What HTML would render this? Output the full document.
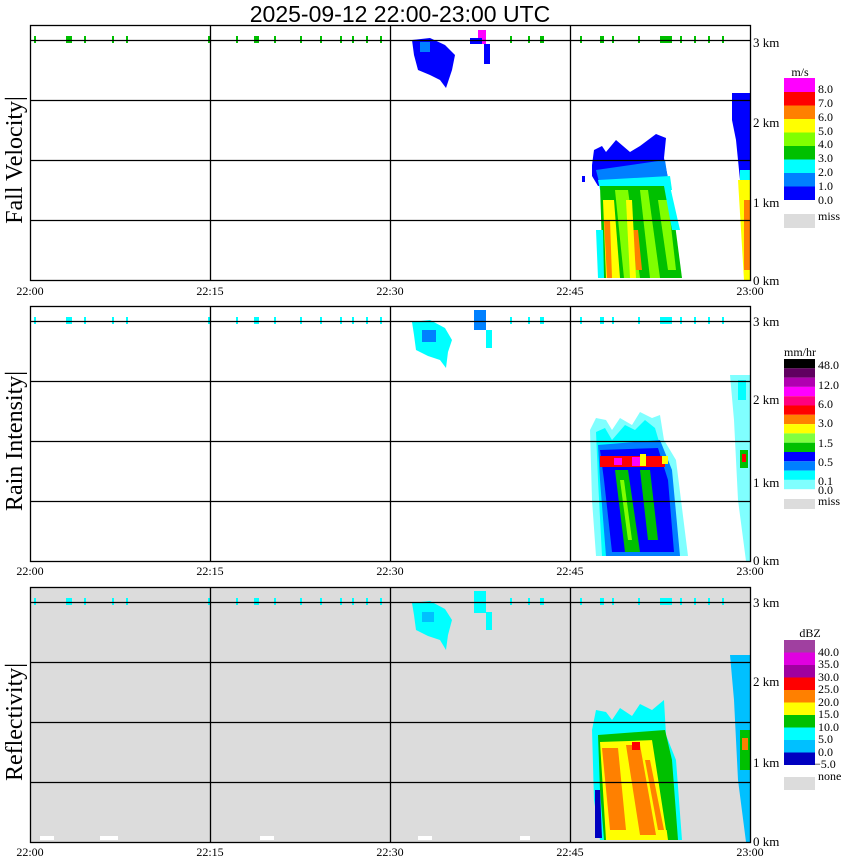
<!DOCTYPE html>
<html><head><meta charset="utf-8"><style>
html,body{margin:0;padding:0;background:#fff;}
svg{display:block;}
text{font-family:"Liberation Serif",serif;}
.s{font-family:"Liberation Sans",sans-serif;}
</style></head><body>
<svg width="850" height="868" viewBox="0 0 850 868" xmlns="http://www.w3.org/2000/svg">
<text x="400" y="22" class="s" font-size="23" text-anchor="middle">2025-09-12  22:00-23:00 UTC</text>

<!-- PANEL 1 -->
<g>
<rect x="30" y="25" width="720" height="255" fill="#fff"/>
<polygon points="412,40 430,38 445,45 455,55 452,70 446,88 440,80 430,75 418,70 414,55" fill="#0000ff"/>
<rect x="420" y="42" width="10" height="10" fill="#0080ff"/>
<rect x="478" y="30" width="8" height="14" fill="#ff00ff"/>
<rect x="470" y="38" width="12" height="6" fill="#0000ff"/>
<rect x="484" y="44" width="6" height="20" fill="#0000ff"/>
<polygon points="592,165 594,150 602,146 606,152 616,140 630,152 640,146 656,134 666,138 664,158 668,178 598,186 592,176" fill="#0000ff"/>
<polygon points="596,170 665,160 668,180 600,186" fill="#0080ff"/>
<polygon points="598,180 670,176 672,190 600,190" fill="#00ffff"/>
<polygon points="600,186 670,186 682,278 603,278" fill="#00c000"/>
<polygon points="615,190 628,190 640,278 624,278" fill="#80ff00"/>
<polygon points="640,190 648,190 660,278 650,278" fill="#80ff00"/>
<polygon points="658,200 668,200 676,270 668,270" fill="#80ff00"/>
<polygon points="603,200 614,200 620,278 606,278" fill="#ffff00"/>
<polygon points="604,220 610,220 612,278 607,278" fill="#ff8000"/>
<polygon points="632,230 638,230 642,270 636,270" fill="#ff8000"/>
<polygon points="626,200 632,200 636,278 630,278" fill="#ffff00"/>
<polygon points="664,186 670,186 680,230 672,230" fill="#00ffff"/>
<polygon points="596,230 603,230 604,278 598,278" fill="#00ffff"/>
<rect x="582" y="176" width="3" height="6" fill="#0000ff"/>
<polygon points="732,93 750,93 750,280 745,280 740,180 736,140 732,120" fill="#0000ff"/>
<polygon points="738,180 750,180 750,280 744,280" fill="#ffff00"/>
<rect x="740" y="170" width="10" height="10" fill="#00ffff"/>
<rect x="744" y="200" width="6" height="70" fill="#ff8000"/>
<g fill="#00c000">
<rect x="34" y="36" width="2" height="7"/><rect x="66" y="36" width="6" height="7"/><rect x="84" y="36" width="2" height="7"/><rect x="112" y="36" width="2" height="7"/><rect x="126" y="36" width="2" height="7"/><rect x="208" y="36" width="2" height="7"/><rect x="236" y="36" width="2" height="7"/><rect x="254" y="36" width="5" height="7"/><rect x="274" y="36" width="2" height="7"/><rect x="300" y="36" width="2" height="7"/><rect x="320" y="36" width="2" height="7"/><rect x="340" y="36" width="2" height="7"/><rect x="352" y="36" width="2" height="7"/><rect x="366" y="36" width="2" height="7"/><rect x="380" y="36" width="2" height="7"/><rect x="510" y="36" width="2" height="7"/><rect x="528" y="36" width="2" height="7"/><rect x="540" y="36" width="4" height="7"/><rect x="580" y="36" width="2" height="7"/><rect x="600" y="36" width="4" height="7"/><rect x="612" y="36" width="2" height="7"/><rect x="638" y="36" width="2" height="7"/><rect x="660" y="36" width="12" height="7"/><rect x="680" y="36" width="2" height="7"/><rect x="694" y="36" width="2" height="7"/><rect x="708" y="36" width="2" height="7"/><rect x="722" y="36" width="2" height="7"/>
</g>
<g stroke="#000" stroke-width="1.3" fill="none">
<rect x="30.5" y="25.5" width="720" height="255"/>
<line x1="30" y1="40.5" x2="750" y2="40.5"/><line x1="30" y1="100.5" x2="750" y2="100.5"/><line x1="30" y1="160.5" x2="750" y2="160.5"/><line x1="30" y1="220.5" x2="750" y2="220.5"/>
<line x1="210.5" y1="25" x2="210.5" y2="280"/><line x1="390.5" y1="25" x2="390.5" y2="280"/><line x1="570.5" y1="25" x2="570.5" y2="280"/>
</g>
<text x="22" y="160" font-size="24" text-anchor="middle" transform="rotate(-90 22 160)">Fall Velocity|</text>
</g>

<!-- PANEL 2 -->
<g>
<polygon points="412,322 430,320 445,328 452,340 448,352 446,368 440,360 428,356 416,350 414,335" fill="#00ffff"/>
<rect x="422" y="330" width="14" height="12" fill="#0080ff"/>
<rect x="474" y="310" width="12" height="20" fill="#0080ff"/>
<rect x="486" y="330" width="6" height="18" fill="#00ffff"/>
<polygon points="590,430 596,418 606,420 612,430 620,418 632,425 640,412 652,418 660,415 664,440 676,460 688,556 596,556 592,500" fill="#80ffff"/>
<polygon points="596,432 605,428 612,440 625,425 635,430 645,420 655,428 660,445 670,470 680,556 602,556 598,480" fill="#00ffff"/>
<polygon points="598,445 660,440 672,470 680,556 606,556 600,480" fill="#0080ff"/>
<polygon points="600,450 658,448 668,480 674,552 612,552 604,480" fill="#0000ff"/>
<polygon points="615,470 628,470 640,552 625,552" fill="#00c000"/>
<polygon points="640,470 650,470 658,540 648,540" fill="#00c000"/>
<polygon points="620,480 624,480 632,540 628,540" fill="#80ff00"/>
<polygon points="600,456 665,456 665,467 600,467" fill="#ff0000"/>
<rect x="632" y="457" width="10" height="9" fill="#ff00ff"/>
<rect x="614" y="458" width="8" height="7" fill="#ff00ff"/>
<rect x="640" y="454" width="6" height="12" fill="#ffff00"/>
<rect x="662" y="456" width="6" height="8" fill="#ffff00"/>
<polygon points="730,375 750,375 750,561 746,561 738,500 734,420" fill="#80ffff"/>
<rect x="738" y="380" width="8" height="20" fill="#00ffff"/>
<rect x="740" y="450" width="8" height="18" fill="#00c000"/>
<rect x="742" y="454" width="4" height="8" fill="#ff0000"/>
<g fill="#00ffff">
<rect x="34" y="317" width="2" height="7"/><rect x="66" y="317" width="6" height="7"/><rect x="84" y="317" width="2" height="7"/><rect x="112" y="317" width="2" height="7"/><rect x="126" y="317" width="2" height="7"/><rect x="208" y="317" width="2" height="7"/><rect x="236" y="317" width="2" height="7"/><rect x="254" y="317" width="5" height="7"/><rect x="274" y="317" width="2" height="7"/><rect x="300" y="317" width="2" height="7"/><rect x="320" y="317" width="2" height="7"/><rect x="340" y="317" width="2" height="7"/><rect x="352" y="317" width="2" height="7"/><rect x="366" y="317" width="2" height="7"/><rect x="380" y="317" width="2" height="7"/><rect x="510" y="317" width="2" height="7"/><rect x="528" y="317" width="2" height="7"/><rect x="540" y="317" width="4" height="7"/><rect x="580" y="317" width="2" height="7"/><rect x="600" y="317" width="4" height="7"/><rect x="612" y="317" width="2" height="7"/><rect x="638" y="317" width="2" height="7"/><rect x="660" y="317" width="12" height="7"/><rect x="680" y="317" width="2" height="7"/><rect x="694" y="317" width="2" height="7"/><rect x="708" y="317" width="2" height="7"/><rect x="722" y="317" width="2" height="7"/>
</g>
<g stroke="#000" stroke-width="1.3" fill="none">
<rect x="30.5" y="306.5" width="720" height="255"/>
<line x1="30" y1="321.5" x2="750" y2="321.5"/><line x1="30" y1="381.5" x2="750" y2="381.5"/><line x1="30" y1="441.5" x2="750" y2="441.5"/><line x1="30" y1="501.5" x2="750" y2="501.5"/>
<line x1="210.5" y1="306" x2="210.5" y2="561"/><line x1="390.5" y1="306" x2="390.5" y2="561"/><line x1="570.5" y1="306" x2="570.5" y2="561"/>
</g>
<text x="22" y="441" font-size="24" text-anchor="middle" transform="rotate(-90 22 441)">Rain Intensity|</text>
</g>

<!-- PANEL 3 -->
<g>
<rect x="30" y="587" width="720" height="255" fill="#dcdcdc"/>
<polygon points="412,603 430,601 445,609 452,620 448,635 446,650 440,640 428,636 416,630 414,615" fill="#00ffff"/>
<rect x="422" y="612" width="12" height="10" fill="#00c0ff"/>
<rect x="474" y="591" width="12" height="22" fill="#00ffff"/>
<rect x="486" y="612" width="6" height="18" fill="#00ffff"/>
<polygon points="592,730 596,710 606,712 612,720 620,708 632,716 640,704 652,710 664,700 666,735 676,760 682,840 600,840 594,800" fill="#00ffff"/>
<polygon points="598,735 665,730 672,760 678,840 604,840 600,790" fill="#00c000"/>
<polygon points="600,742 655,740 660,780 668,840 606,840" fill="#ffff00"/>
<polygon points="602,748 618,748 626,830 610,830" fill="#ff8000"/>
<polygon points="626,745 640,745 656,835 640,835" fill="#ff8000"/>
<polygon points="645,760 650,760 664,830 658,830" fill="#ff8000"/>
<polygon points="652,740 664,740 676,830 666,830" fill="#00c000"/>
<rect x="632" y="742" width="8" height="8" fill="#ff0000"/>
<polygon points="595,790 600,790 602,838 595,838" fill="#0000c0"/>
<polygon points="730,655 750,655 750,842 746,842 738,780 734,700" fill="#00c0ff"/>
<rect x="740" y="730" width="10" height="40" fill="#00c000"/>
<rect x="742" y="738" width="6" height="12" fill="#ff8000"/>
<g fill="#fff"><rect x="40" y="836" width="14" height="4"/><rect x="100" y="836" width="18" height="4"/><rect x="260" y="836" width="14" height="4"/><rect x="418" y="836" width="14" height="4"/><rect x="520" y="836" width="10" height="4"/></g>
<g fill="#00ffff">
<rect x="34" y="598" width="2" height="7"/><rect x="66" y="598" width="6" height="7"/><rect x="84" y="598" width="2" height="7"/><rect x="112" y="598" width="2" height="7"/><rect x="126" y="598" width="2" height="7"/><rect x="208" y="598" width="2" height="7"/><rect x="236" y="598" width="2" height="7"/><rect x="254" y="598" width="5" height="7"/><rect x="274" y="598" width="2" height="7"/><rect x="300" y="598" width="2" height="7"/><rect x="320" y="598" width="2" height="7"/><rect x="340" y="598" width="2" height="7"/><rect x="352" y="598" width="2" height="7"/><rect x="366" y="598" width="2" height="7"/><rect x="380" y="598" width="2" height="7"/><rect x="510" y="598" width="2" height="7"/><rect x="528" y="598" width="2" height="7"/><rect x="540" y="598" width="4" height="7"/><rect x="580" y="598" width="2" height="7"/><rect x="600" y="598" width="4" height="7"/><rect x="612" y="598" width="2" height="7"/><rect x="638" y="598" width="2" height="7"/><rect x="660" y="598" width="12" height="7"/><rect x="680" y="598" width="2" height="7"/><rect x="694" y="598" width="2" height="7"/><rect x="708" y="598" width="2" height="7"/><rect x="722" y="598" width="2" height="7"/>
</g>
<g stroke="#000" stroke-width="1.3" fill="none">
<rect x="30.5" y="587.5" width="720" height="255"/>
<line x1="30" y1="602.5" x2="750" y2="602.5"/><line x1="30" y1="662.5" x2="750" y2="662.5"/><line x1="30" y1="722.5" x2="750" y2="722.5"/><line x1="30" y1="782.5" x2="750" y2="782.5"/>
<line x1="210.5" y1="587" x2="210.5" y2="842"/><line x1="390.5" y1="587" x2="390.5" y2="842"/><line x1="570.5" y1="587" x2="570.5" y2="842"/>
</g>
<text x="22" y="722" font-size="24" text-anchor="middle" transform="rotate(-90 22 722)">Reflectivity|</text>
</g>

<g class="s" font-size="12" text-anchor="middle">
<text x="30" y="295">22:00</text><text x="210" y="295">22:15</text><text x="390" y="295">22:30</text><text x="570" y="295">22:45</text><text x="750" y="295">23:00</text>
<text x="30" y="575">22:00</text><text x="210" y="575">22:15</text><text x="390" y="575">22:30</text><text x="570" y="575">22:45</text><text x="750" y="575">23:00</text>
<text x="30" y="856">22:00</text><text x="210" y="856">22:15</text><text x="390" y="856">22:30</text><text x="570" y="856">22:45</text><text x="750" y="856">23:00</text>
</g>
<g font-size="13">
<text x="753" y="47">3 km</text><text x="753" y="127">2 km</text><text x="753" y="207">1 km</text><text x="753" y="285">0 km</text>
<text x="753" y="326">3 km</text><text x="753" y="404">2 km</text><text x="753" y="487">1 km</text><text x="753" y="565">0 km</text>
<text x="753" y="607">3 km</text><text x="753" y="686">2 km</text><text x="753" y="767">1 km</text><text x="753" y="846">0 km</text>
</g>

<g font-size="12">
<text x="800" y="76" text-anchor="middle">m/s</text>
<rect x="784" y="78" width="31" height="14" fill="#ff00ff"/>
<rect x="784" y="92" width="31" height="13.5" fill="#ff0000"/>
<rect x="784" y="105.5" width="31" height="13.5" fill="#ff8000"/>
<rect x="784" y="119" width="31" height="13.5" fill="#ffff00"/>
<rect x="784" y="132.5" width="31" height="13.5" fill="#80ff00"/>
<rect x="784" y="146" width="31" height="13.5" fill="#00c000"/>
<rect x="784" y="159.5" width="31" height="13.5" fill="#00ffff"/>
<rect x="784" y="173" width="31" height="13.5" fill="#0080ff"/>
<rect x="784" y="186.5" width="31" height="13.5" fill="#0000ff"/>
<rect x="784" y="214" width="31" height="14" fill="#dcdcdc"/>
<text x="818" y="93">8.0</text><text x="818" y="107">7.0</text><text x="818" y="121">6.0</text><text x="818" y="135">5.0</text><text x="818" y="148">4.0</text><text x="818" y="162">3.0</text><text x="818" y="176">2.0</text><text x="818" y="190">1.0</text><text x="818" y="204">0.0</text><text x="818" y="220">miss</text>
</g>
<g font-size="12">
<text x="800" y="356" text-anchor="middle">mm/hr</text>
<rect x="784" y="359" width="31" height="9.3" fill="#000000"/>
<rect x="784" y="368.3" width="31" height="9.3" fill="#600060"/>
<rect x="784" y="377.6" width="31" height="9.3" fill="#b000b0"/>
<rect x="784" y="386.9" width="31" height="9.3" fill="#ff00ff"/>
<rect x="784" y="396.2" width="31" height="9.3" fill="#ff0080"/>
<rect x="784" y="405.5" width="31" height="9.3" fill="#ff0000"/>
<rect x="784" y="414.8" width="31" height="9.3" fill="#ff8000"/>
<rect x="784" y="424.1" width="31" height="9.3" fill="#ffff00"/>
<rect x="784" y="433.4" width="31" height="9.3" fill="#80ff40"/>
<rect x="784" y="442.7" width="31" height="9.3" fill="#00c000"/>
<rect x="784" y="452" width="31" height="9.3" fill="#0000ff"/>
<rect x="784" y="461.3" width="31" height="9.3" fill="#0080ff"/>
<rect x="784" y="470.6" width="31" height="9.3" fill="#00ffff"/>
<rect x="784" y="479.9" width="31" height="9.3" fill="#80ffff"/>
<rect x="784" y="499" width="31" height="10" fill="#dcdcdc"/>
<text x="818" y="369">48.0</text><text x="818" y="389">12.0</text><text x="818" y="408">6.0</text><text x="818" y="427">3.0</text><text x="818" y="447">1.5</text><text x="818" y="466">0.5</text><text x="818" y="485">0.1</text><text x="818" y="494">0.0</text><text x="818" y="505">miss</text>
</g>
<g font-size="12">
<text x="810" y="637" text-anchor="middle">dBZ</text>
<rect x="784" y="640" width="31" height="12.5" fill="#a040a0"/>
<rect x="784" y="652.5" width="31" height="12.5" fill="#e000e0"/>
<rect x="784" y="665" width="31" height="12.5" fill="#a000a0"/>
<rect x="784" y="677.5" width="31" height="12.5" fill="#ff0000"/>
<rect x="784" y="690" width="31" height="12.5" fill="#ff8000"/>
<rect x="784" y="702.5" width="31" height="12.5" fill="#ffff00"/>
<rect x="784" y="715" width="31" height="12.5" fill="#00c000"/>
<rect x="784" y="727.5" width="31" height="12.5" fill="#00ffff"/>
<rect x="784" y="740" width="31" height="12.5" fill="#00c0ff"/>
<rect x="784" y="752.5" width="31" height="12.5" fill="#0000c0"/>
<rect x="784" y="777" width="31" height="13" fill="#dcdcdc"/>
<text x="818" y="656">40.0</text><text x="818" y="668">35.0</text><text x="818" y="681">30.0</text><text x="818" y="693">25.0</text><text x="818" y="706">20.0</text><text x="818" y="718">15.0</text><text x="818" y="731">10.0</text><text x="818" y="743">5.0</text><text x="818" y="756">0.0</text><text x="814" y="768">−5.0</text><text x="818" y="780">none</text>
</g>
</svg>
</body></html>
